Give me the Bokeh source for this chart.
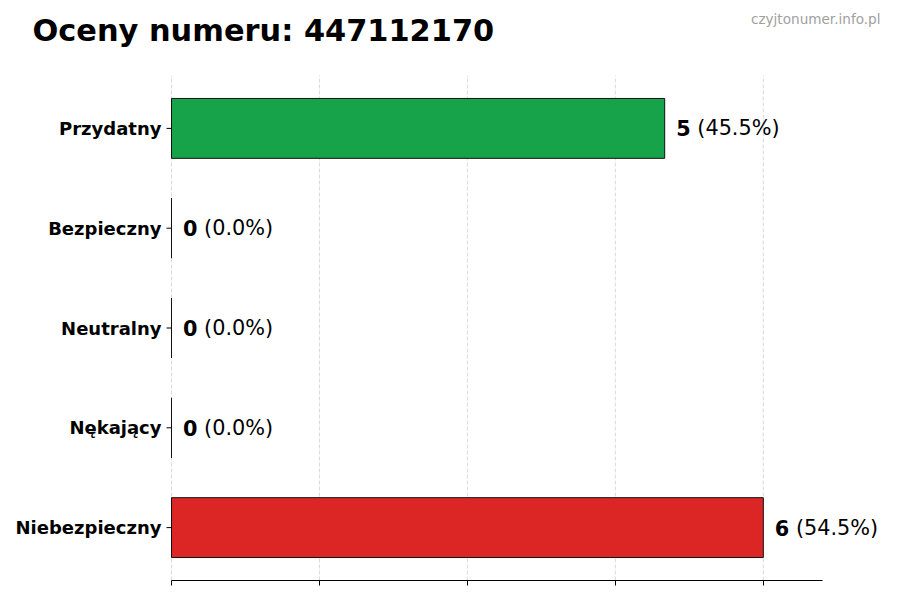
import numpy as np
from bokeh.plotting import figure
from bokeh.models import ColumnDataSource, Range1d, FixedTicker, Label
from bokeh.core.properties import value
from bokeh.embed import file_html
from bokeh.resources import INLINE

categories = ["Przydatny", "Bezpieczny", "Neutralny", "Nękający", "Niebezpieczny"]
counts = [5, 0, 0, 0, 6]
percents = [45.5, 0.0, 0.0, 0.0, 54.5]
colors = ["#16a34a", "#4ade80", "#9ca3af", "#f97316", "#dc2626"]
title_text = "Oceny numeru: 447112170"
watermark = "czyjtonumer.info.pl"
x_ticks = [0, 1.5, 3, 4.5, 6]

n = len(categories)
ypos = [n - 1 - i for i in range(n)]
src = ColumnDataSource(dict(
    y=ypos, cnt=counts, color=colors, cat=categories,
    num=[str(c) for c in counts],
    pct=["(%.1f%%)" % p for p in percents],
))

FONT = "DejaVu Sans"

# axis extents (as in the original matplotlib-style chart)
xmax = max(counts) * 1.1
ylo, yhi = -0.53, n - 1 + 0.53

# the plotting frame spans the whole canvas above the x axis, so titles and
# category labels can live inside it; the data area is 651 x 505 px
W, H = 892, 580
left_px, top_px = 171, 75
ux = 651 / xmax
uy = 505 / (yhi - ylo)
x_lo = -left_px / ux
x_hi = (W - left_px) / ux
y_top = yhi + top_px / uy

p = figure(frame_width=W, frame_height=H,
           min_border_left=0, min_border_right=0,
           min_border_top=0, min_border_bottom=12,
           x_range=Range1d(x_lo, x_hi), y_range=Range1d(ylo, y_top),
           y_axis_location=None,
           output_backend="svg", toolbar_location=None)
p.outline_line_color = None
p.background_fill_color = "white"
p.border_fill_color = "white"
p.xgrid.grid_line_color = None
p.ygrid.grid_line_color = None

# vertical dashed grid lines at the x ticks, within the data area
p.segment(x0=x_ticks, x1=x_ticks, y0=[ylo] * len(x_ticks), y1=[yhi] * len(x_ticks),
          line_color="#cccccc", line_alpha=0.7, line_dash="4 2", line_width=1)

# bars
p.hbar(y="y", left=0, right="cnt", height=0.6, fill_color="color",
       line_color="#111111", line_width=1, source=src)

# value labels
p.text(x="cnt", y="y", text="num", source=src, x_offset=11.5,
       text_font=value(FONT), text_font_style="bold", text_font_size="20.8px",
       text_baseline="middle", text_align="left", text_color="black")
p.text(x="cnt", y="y", text="pct", source=src, x_offset=32.6,
       text_font=value(FONT), text_font_size="20.8px",
       text_baseline="middle", text_align="left", text_color="black")

# category axis: ticks and labels
p.ray(x=0, y="y", length=5, length_units="screen", angle=np.pi,
      line_color="black", line_width=1, source=src)
p.text(x=0, y="y", text="cat", source=src, x_offset=-10,
       text_font=value(FONT), text_font_style="bold", text_font_size="18px",
       text_baseline="middle", text_align="right", text_color="black")

# x axis (line limited to the data extent, no tick labels)
p.xaxis.ticker = FixedTicker(ticks=x_ticks)
p.xaxis.bounds = (0, xmax)
p.xaxis.major_label_overrides = {t: "" for t in x_ticks}
p.xaxis.major_label_text_font_size = "1px"
p.xaxis.major_label_standoff = 0
p.xaxis.major_tick_out = 5
p.xaxis.major_tick_in = 0
p.xaxis.minor_tick_line_color = None
p.xaxis.axis_line_color = "black"
p.xaxis.major_tick_line_color = "black"

# title and watermark
p.add_layout(Label(x=(32 - left_px) / ux, y=y_top - 30 / uy,
                   text=title_text, text_font=FONT, text_font_style="bold",
                   text_font_size="30.4px", text_align="left",
                   text_baseline="alphabetic", text_color="black"))
p.add_layout(Label(x=(880 - left_px) / ux, y=y_top - 18 / uy,
                   text=watermark, text_font=FONT, text_font_size="13.6px",
                   text_align="right", text_baseline="alphabetic",
                   text_color="#a0a0a0"))

open("out.html", "w").write(file_html(p, INLINE))
